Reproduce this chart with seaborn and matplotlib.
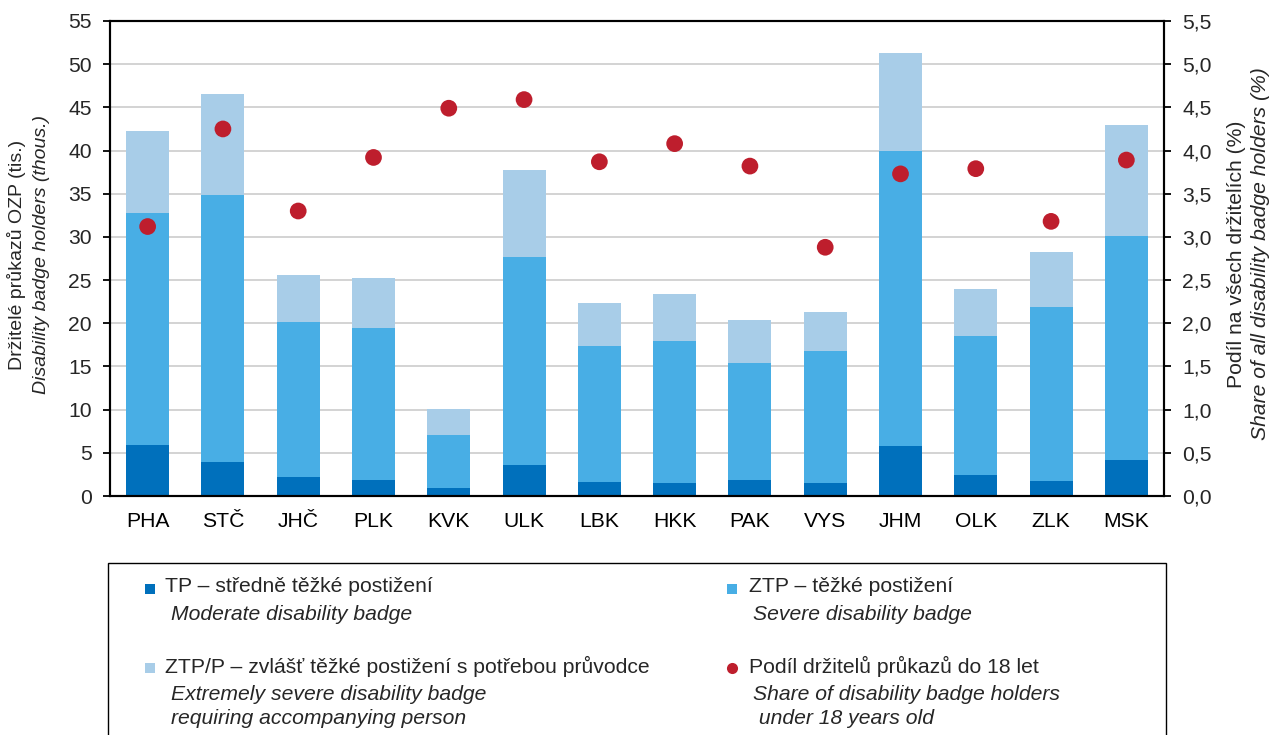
import numpy as np
import pandas as pd
import matplotlib
matplotlib.use("Agg")
import matplotlib.pyplot as plt
from matplotlib.patches import Rectangle
from matplotlib.lines import Line2D
import seaborn as sns

# Regions (NUTS 3 abbreviations)
regions = ["PHA", "STČ", "JHČ", "PLK", "KVK", "ULK", "LBK",
           "HKK", "PAK", "VYS", "JHM", "OLK", "ZLK", "MSK"]

# Disability badge holders by type (thousands)
tp = [5.9, 3.9, 2.2, 1.8, 0.9, 3.6, 1.6, 1.5, 1.8, 1.5, 5.8, 2.4, 1.7, 4.2]
ztp = [26.9, 30.9, 18.0, 17.6, 6.2, 24.1, 15.8, 16.4, 13.6, 15.3, 34.2, 16.1, 20.2, 25.9]
ztpp = [9.5, 11.7, 5.4, 5.8, 3.0, 10.0, 4.9, 5.5, 5.0, 4.5, 11.3, 5.5, 6.3, 12.9]

# Share of holders under 18 years (% of all holders)
share_u18 = [3.12, 4.25, 3.30, 3.92, 4.49, 4.59, 3.87, 4.08, 3.82, 2.88, 3.73, 3.79, 3.18, 3.89]

left_ticks = [0, 5, 10, 15, 20, 25, 30, 35, 40, 45, 50, 55]
right_ticks = [0.0, 0.5, 1.0, 1.5, 2.0, 2.5, 3.0, 3.5, 4.0, 4.5, 5.0, 5.5]
right_tick_labels = ["0,0", "0,5", "1,0", "1,5", "2,0", "2,5", "3,0",
                     "3,5", "4,0", "4,5", "5,0", "5,5"]

C_TP = "#0070bc"
C_ZTP = "#48aee5"
C_ZTPP = "#a8cde8"
C_DOT = "#be1e2d"

sns.set_theme(style="white")
plt.rcParams["font.family"] = ["Liberation Sans", "DejaVu Sans"]
FS = 15.2       # horizontal text
FS_VL = 14.0    # left rotated axis title
FS_VR = 15.2    # right rotated axis title

df = pd.DataFrame({"region": regions, "tp": tp, "ztp": ztp, "ztpp": ztpp,
                   "share": share_u18})
df["lvl2"] = df["tp"] + df["ztp"]
df["lvl3"] = df["lvl2"] + df["ztpp"]

W, H = 1271, 735
fig = plt.figure(figsize=(W / 100, H / 100), dpi=100)


def fx(px):
    return px / W


def fy(py):
    return 1 - py / H


ax = fig.add_axes([fx(110), fy(496), fx(1164) - fx(110), fy(21) - fy(496)])

# stacked bars: draw cumulative totals back-to-front
bw = 0.57
sns.barplot(data=df, x="region", y="lvl3", color=C_ZTPP, saturation=1,
            width=bw, ax=ax, edgecolor="none", order=regions)
sns.barplot(data=df, x="region", y="lvl2", color=C_ZTP, saturation=1,
            width=bw, ax=ax, edgecolor="none", order=regions)
sns.barplot(data=df, x="region", y="tp", color=C_TP, saturation=1,
            width=bw, ax=ax, edgecolor="none", order=regions)

ax.set_xlim(-0.5, len(regions) - 0.5)
ax.set_ylim(0, 55)
ax.set_yticks(left_ticks)
ax.set_yticklabels([str(t) for t in left_ticks])
ax.yaxis.grid(True, color="#c8c8c8", linewidth=1.1)
ax.set_axisbelow(True)
ax.set_xlabel("")
ax.set_ylabel("")

# category separators as ticks on the x axis
ax.set_xticks(np.arange(len(regions)))
ax.set_xticklabels(regions)
ax.set_xticks(np.arange(-0.5, len(regions)), minor=True)
ax.tick_params(axis="x", which="major", length=0, pad=11.5, labelsize=FS, colors="black")
ax.tick_params(axis="x", which="minor", length=5, width=1.3, color="black", direction="out")
ax.tick_params(axis="y", which="major", length=5, width=1.3, color="black",
               direction="out", labelsize=FS, pad=8, left=True)

for s in ax.spines.values():
    s.set_visible(True)
    s.set_color("black")
    s.set_linewidth(1.5)

# secondary axis: share of holders under 18
ax2 = ax.twinx()
sns.scatterplot(data=df, x="region", y="share", ax=ax2, color=C_DOT,
                s=145, edgecolor="none", zorder=5, legend=False)
ax2.set_ylim(0, 5.5)
ax2.set_yticks(right_ticks)
ax2.set_yticklabels(right_tick_labels)
ax2.set_ylabel("")
ax2.grid(False)
ax2.tick_params(axis="y", which="major", length=5, width=1.3, color="black",
                direction="out", labelsize=FS, pad=8, right=True)
for s in ax2.spines.values():
    s.set_color("black")
    s.set_linewidth(1.5)
ax.set_xlim(-0.5, len(regions) - 0.5)

# axis titles (Czech + English italic)
fig.text(fx(17), fy(255), "Držitelé průkazů OZP (tis.)", rotation=90,
         ha="center", va="center", fontsize=FS_VL)
fig.text(fx(42), fy(255), "Disability badge holders (thous.)", rotation=90,
         ha="center", va="center", fontsize=FS_VL, style="italic")
fig.text(fx(1237), fy(254), "Podíl na všech držitelích (%)", rotation=90,
         ha="center", va="center", fontsize=FS_VR)
fig.text(fx(1260), fy(254), "Share of all disability badge holders (%)", rotation=90,
         ha="center", va="center", fontsize=FS_VR, style="italic")

# legend box
fig.patches.append(Rectangle((fx(108), fy(745)), fx(1166) - fx(108), fy(563) - fy(745),
                             transform=fig.transFigure, fill=False,
                             edgecolor="black", linewidth=1.0))

legend_items = [
    ("s", C_TP, 150, 589, "TP – středně těžké postižení",
     ["Moderate disability badge"], 165, 171),
    ("s", C_ZTP, 732, 589, "ZTP – těžké postižení",
     ["Severe disability badge"], 749, 753),
    ("s", C_ZTPP, 150, 668, "ZTP/P – zvlášť těžké postižení s potřebou průvodce",
     ["Extremely severe disability badge", "requiring accompanying person"], 165, 171),
    ("o", C_DOT, 732, 668, "Podíl držitelů průkazů do 18 let",
     ["Share of disability badge holders", " under 18 years old"], 749, 753),
]
for mk, col, mx, my, title, lines, tx, ix in legend_items:
    fig.add_artist(Line2D([fx(mx)], [fy(my)], marker=mk, color=col,
                          markersize=7.5 if mk == "s" else 8, linestyle="none",
                          markeredgewidth=0, transform=fig.transFigure))
    fig.text(fx(tx), fy(my - 2), title, ha="left", va="center", fontsize=FS)
    for i, ln in enumerate(lines):
        fig.text(fx(ix), fy(my + 26 + 25 * i), ln, ha="left", va="center",
                 fontsize=FS, style="italic")

fig.savefig("out.png", dpi=100)
